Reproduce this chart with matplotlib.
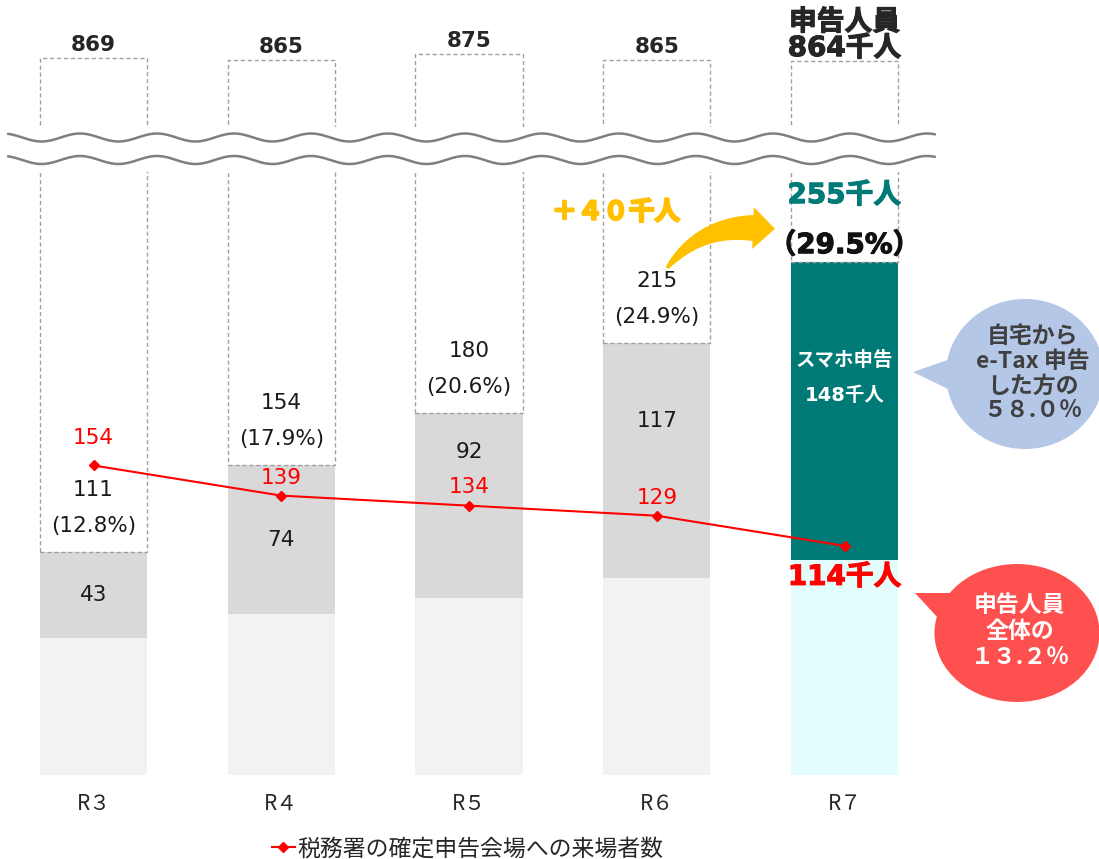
import numpy as np
import matplotlib
matplotlib.use('Agg')
import matplotlib.pyplot as plt
import matplotlib.patheffects as pe
from matplotlib.patches import Ellipse, Polygon

plt.rcParams['font.family'] = ['DejaVu Sans', 'Noto Sans CJK JP']

# ---------------- data ----------------
years = ['R３', 'R４', 'R５', 'R６', 'R７']
total_filers = [869, 865, 875, 865, 864]          # 申告人員 (千人)
home_etax = [111, 154, 180, 215, 255]             # 自宅からe-Tax申告 (千人)
home_etax_pct = ['12.8%', '17.9%', '20.6%', '24.9%', '29.5%']
smartphone = [43, 74, 92, 117, 148]               # スマホ申告 (千人)
venue_visitors = [154, 139, 134, 129, 114]        # 来場者数 (千人)
legend_label = '税務署の確定申告会場への来場者数'
smart_share = '５８.０％'
venue_share = '１３.２％'

# ---------------- layout ----------------
W, H = 1099, 859
fig = plt.figure(figsize=(W / 100, H / 100), dpi=100)
fig.patch.set_facecolor('white')


def box(left, top, right, bottom):
    return [left / W, 1 - bottom / H, (right - left) / W, (bottom - top) / H]


def heavy(color, lw=1.0):
    return [pe.withStroke(linewidth=lw, foreground=color)]


ax = fig.add_axes(box(0, 172, W, 775))
axu = fig.add_axes(box(0, 0, W, 127))
spacing = 187.75
xlim = (-93.5 / spacing, (W - 93.5) / spacing)
for a in (ax, axu):
    a.set_xlim(*xlim)
    for s in a.spines.values():
        s.set_visible(False)
    a.set_yticks([])
    a.patch.set_alpha(0)
ax.set_ylim(0, 300)
axu.set_ylim(767, 954)
axu.set_xticks([])

x = np.arange(len(years))
bw = 0.57
home = np.array(home_etax)
smart = np.array(smartphone)
total = np.array(total_filers)

low_colors = ['#F2F2F2'] * 4 + ['#E3FDFD']
smart_colors = ['#D9D9D9'] * 4 + ['#007A76']

ax.bar(x, home - smart, width=bw, color=low_colors, zorder=2)
ax.bar(x, smart, bottom=home - smart, width=bw, color=smart_colors, zorder=2)
for a in (ax, axu):
    a.bar(x, total - home, bottom=home, width=bw, fill=False,
          edgecolor='#A0A0A0', linestyle=(0, (3, 2)), linewidth=1.0, zorder=3)

line, = ax.plot(x, venue_visitors, color='#FF0000', lw=1.5, marker='D',
                ms=5, zorder=5, label=legend_label)

# labels in dashed area and grey segments (R3..R6)
smart_label_y = [89.5, 117, 160.5, 176]
venue_off_px = [27, 18, 19, 18]
for i in range(4):
    ax.text(x[i], home[i] + 31, f'{home[i]}', ha='center', va='center',
            fontsize=15.5, color='#1A1A1A', zorder=6)
    ax.text(x[i], home[i] + 13, f'({home_etax_pct[i]})', ha='center',
            va='center', fontsize=15.5, color='#1A1A1A', zorder=6)
    ax.text(x[i], smart_label_y[i], f'{smart[i]}', ha='center', va='center',
            fontsize=15.5, color='#1A1A1A', zorder=6)
    ax.annotate(f'{venue_visitors[i]}', (x[i], venue_visitors[i]),
                xytext=(0, venue_off_px[i] * 0.72), textcoords='offset points',
                ha='center', va='center', fontsize=15.5, color='#FF0000',
                zorder=6)

# R7 annotations
cjk = ['Noto Sans CJK JP']
teal = '#007A76'
ax.text(x[4], home[4] + 33.5, f'{home[4]}千人', ha='center', va='center',
        fontsize=20, fontweight='bold', color=teal, zorder=6,
        path_effects=heavy(teal, 0.8))
ax.text(x[4], home[4] + 8.6, f'（{home_etax_pct[4]}）', ha='center',
        va='center', fontsize=20, fontweight='bold', color='#111111', zorder=6,
        path_effects=heavy('#111111', 0.8))
ax.text(x[4], 206.3, 'スマホ申告', ha='center', va='center', fontsize=14,
        fontweight='bold', color='white', family=cjk, zorder=6)
ax.text(x[4], 188.9, f'{smart[4]}千人', ha='center', va='center',
        fontsize=14, fontweight='bold', color='white', zorder=6)
ax.annotate(f'{venue_visitors[4]}千人', (x[4], venue_visitors[4]),
            xytext=(0, -31 * 0.72), textcoords='offset points', ha='center',
            va='center', fontsize=20, fontweight='bold', color='#FF0000',
            zorder=6, path_effects=heavy('#FF0000', 0.8))

fw = str.maketrans('0123456789', '０１２３４５６７８９')
diff = home[4] - home[3]
ax.text(x[3] - 0.217, 280, f'＋{str(diff).translate(fw)}千人', ha='center',
        va='center', fontsize=18.5, fontweight='bold', color='#FFC000',
        family=cjk, zorder=6, path_effects=heavy('#FFC000', 1.6))

# totals above the break
for i in range(4):
    axu.annotate(f'{total[i]}', (x[i], total[i]), xytext=(0, 13 * 0.72),
                 textcoords='offset points', ha='center', va='center',
                 fontsize=15.5, fontweight='bold', color='#262626')
axu.annotate(f'{total[4]}千人', (x[4], total[4]), xytext=(0, 13 * 0.72),
             textcoords='offset points', ha='center', va='center',
             fontsize=20, fontweight='bold', color='#262626',
             annotation_clip=False, path_effects=heavy('#262626', 0.8))
axu.annotate('申告人員', (x[4], total[4]), xytext=(0, 39 * 0.72),
             textcoords='offset points', ha='center', va='center',
             fontsize=20, fontweight='bold', color='#262626', family=cjk,
             annotation_clip=False, path_effects=heavy('#262626', 0.8))

# x tick labels
ax.set_xticks(x, years)
ax.tick_params(axis='x', length=0, pad=13, labelsize=15, labelcolor='#262626')
for lab in ax.get_xticklabels():
    lab.set_family(cjk)

# legend
fig.legend(handles=[line], loc='center',
           bbox_to_anchor=(467.5 / W, 1 - 849 / H), frameon=False,
           handlelength=1.0, handletextpad=0.1, borderpad=0,
           prop={'family': cjk, 'size': 16.5}, labelcolor='#262626')

# ---------------- decorations (pixel overlay) ----------------
axo = fig.add_axes([0, 0, 1, 1], zorder=10)
axo.set_xlim(0, W)
axo.set_ylim(H, 0)
axo.axis('off')
axo.patch.set_alpha(0)

xw = np.linspace(8, 935, 700)
for yc in (137.5, 160):
    axo.plot(xw, yc - 4 * np.cos(2 * np.pi * (xw - 80) / 77),
             color='#7F7F7F', lw=1.8, solid_capstyle='round')

# curved tapered arrow
P0 = np.array([667, 268.0])
P1 = np.array([700, 226.0])
P2 = np.array([753, 228.0])
t = np.linspace(0, 1, 80)[:, None]
B = (1 - t) ** 2 * P0 + 2 * (1 - t) * t * P1 + t ** 2 * P2
dB = 2 * (1 - t) * (P1 - P0) + 2 * t * (P2 - P1)
nrm = np.column_stack([-dB[:, 1], dB[:, 0]])
nrm /= np.linalg.norm(nrm, axis=1)[:, None]
hw = 1.5 + 11.5 * t ** 0.8
left = B + nrm * hw
right = B - nrm * hw
tan_end = (P2 - P1) / np.linalg.norm(P2 - P1)
n_end = nrm[-1]
head = [P2 + n_end * 21, P2 + tan_end * 22, P2 - n_end * 21]
pts = np.vstack([left, head, right[::-1]])
axo.add_patch(Polygon(pts, closed=True, color='#FFC000', lw=0))

# blue bubble
axo.add_patch(Ellipse((1025, 374), 158, 150, color='#B4C7E7', lw=0))
axo.add_patch(Polygon([(913, 372), (985, 347), (985, 407)], color='#B4C7E7', lw=0))
for txt, yy in zip(['自宅から', 'e-Tax 申告', 'した方の', smart_share],
                   [336, 361, 386, 411]):
    axo.text(1033, yy, txt, ha='center', va='center', fontsize=16.5,
             fontweight='bold', color='#404040', family=cjk)

# red bubble
axo.add_patch(Ellipse((1017, 633), 165, 138, color='#FF5050', lw=0))
axo.add_patch(Polygon([(915, 593), (990, 593), (962, 644)], color='#FF5050', lw=0))
for txt, yy in zip(['申告人員', '全体の', venue_share], [605, 631, 657]):
    axo.text(1020, yy, txt, ha='center', va='center', fontsize=16.5,
             fontweight='bold', color='white', family=cjk)

fig.savefig('out.png', dpi=100, facecolor='white')
